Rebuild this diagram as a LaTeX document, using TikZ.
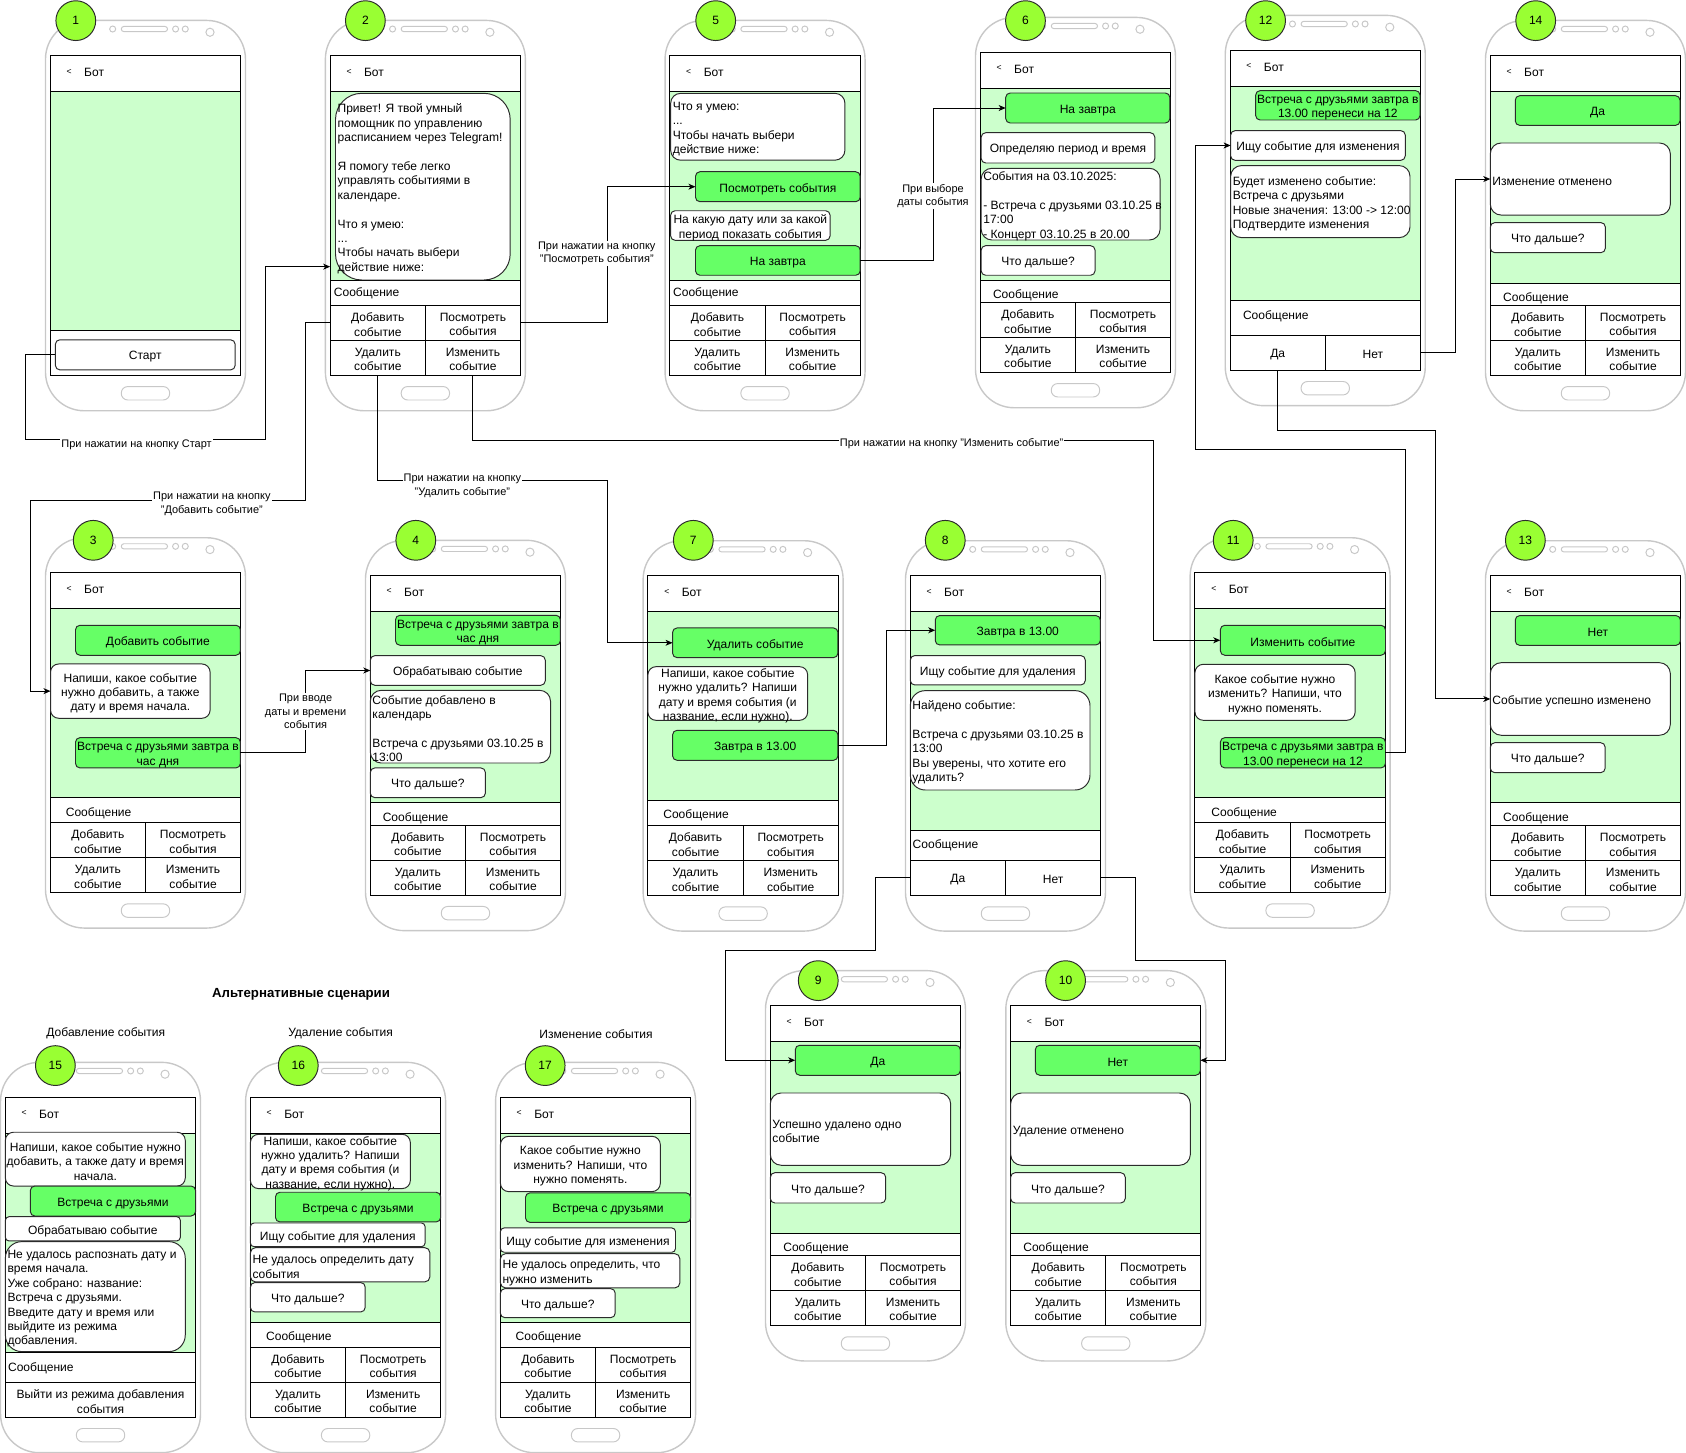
\documentclass[tikz,border=0pt]{standalone}
\usepackage{fontspec}
\setmainfont{Liberation Sans}
\usetikzlibrary{arrows.meta,calc}

\definecolor{chatbg}{HTML}{CCFFCC}
\definecolor{usergreen}{HTML}{66FF66}
\definecolor{badgegreen}{HTML}{99FF33}
\definecolor{shell}{HTML}{C8C8C8}
\definecolor{edge}{HTML}{2B2B2B}

\newcommand{\phfont}{\fontsize{11.2}{13.4}\selectfont}
\newcommand{\lblfont}{\fontsize{10.2}{12.5}\selectfont}
\newcommand{\backfont}{\fontsize{8}{9}\selectfont}

\tikzset{
  every node/.style={inner sep=0pt, outer sep=0pt, font=\phfont},
  phonebody/.style={draw=shell, line width=1.3pt, fill=white, rounded corners=36pt},
  phonepart/.style={draw=shell, line width=0.9pt},
  screenframe/.style={draw=black, line width=0.9pt, anchor=north west, minimum width=177pt, minimum height=297.5pt},
  rule/.style={draw=black, line width=0.9pt},
  cell/.style={draw=black, line width=0.9pt, anchor=north west, minimum width=88.5pt, minimum height=32.5pt},
  celltext/.style={align=center, yshift=-1.5pt},
  usermsg/.style={draw=edge, line width=0.9pt, fill=usergreen},
  botmsg/.style={draw=edge, line width=0.9pt, fill=white},
  badge/.style={circle, draw=edge, line width=0.9pt, fill=badgegreen, minimum size=37pt},
  flow/.style={draw=black, line width=0.9pt, -{Stealth[length=6.5pt, width=5.5pt, inset=1.8pt]}},
  flowlabel/.style={fill=white, inner sep=1pt, align=center, font=\lblfont, yshift=-1.5pt},
}

% phone shell, screen, header and number badge
% #1 id, #2 screen x, #3 screen y, #4 number, #5 badge x, #6 badge y, #7 chat bottom (relative)
\newcommand{\phoneframe}[7]{%
  \begin{scope}[shift={(#2,#3)}]
    \draw[phonebody] (-4.5,-32.5) rectangle (181.5,330.5);
    \draw[phonepart] (58,-24.5) circle (2.8);
    \draw[phonepart, rounded corners=2.4pt] (66,-26.9) rectangle (109,-22.1);
    \draw[phonepart] (116.5,-24.5) circle (2.8);
    \draw[phonepart] (125.5,-24.5) circle (2.8);
    \draw[phonepart] (148.5,-21.5) circle (3.8);
    \draw[phonepart, rounded corners=6pt] (66,308) rectangle (111,320.5);
    \fill[chatbg] (0,33.5) rectangle (177,#7);
    \node[screenframe] (p#1) at (0,0) {};
    \draw[rule] (0,33.5) -- (177,33.5);
    \draw[rule] (0,#7) -- (177,#7);
    \node[font=\backfont] (p#1-back) at (17.5,15) {<};
    \node[anchor=west] (p#1-title) at (31.5,15.5) {Бот};
  \end{scope}
  \node[badge] (n#1) at (#5,#6) {#4};
}

% message line and the four menu buttons
\newcommand{\menugrid}[5]{%
  \begin{scope}[shift={(#2,#3)}]
    \node[anchor=west] (p#1-msg) at (#4,#5) {Сообщение};
    \node[cell] (p#1-add) at (0,232.5) {};
    \node[cell] (p#1-view) at (88.5,232.5) {};
    \node[cell] (p#1-del) at (0,265) {};
    \node[cell] (p#1-edit) at (88.5,265) {};
  \end{scope}
  \node[celltext] (p#1-add-t) at (p#1-add.center) {Добавить\\событие};
  \node[celltext] (p#1-view-t) at (p#1-view.center) {Посмотреть\\события};
  \node[celltext] (p#1-del-t) at (p#1-del.center) {Удалить\\событие};
  \node[celltext] (p#1-edit-t) at (p#1-edit.center) {Изменить\\событие};
}

% message line and yes/no buttons
\newcommand{\yesnorow}[6]{%
  \pgfmathsetmacro\ynH{297.5-#4}%
  \begin{scope}[shift={(#2,#3)}]
    \node[anchor=west] (p#1-msg) at (#5,#6) {Сообщение};
    \node[cell, minimum height=\ynH pt] (p#1-yes) at (0,#4) {};
    \node[cell, minimum height=\ynH pt] (p#1-no) at (88.5,#4) {};
  \end{scope}
  \node[celltext] (p#1-yes-t) at (p#1-yes.center) {Да};
  \node[celltext] (p#1-no-t) at (p#1-no.center) {Нет};
}

% chat bubble: #1 name, #2 style, #3 x1, #4 y1, #5 x2, #6 y2, #7 l/c, #8 text
\newcommand{\bubble}[8]{%
  \pgfmathsetmacro\mbW{#5-#3}%
  \pgfmathsetmacro\mbH{#6-#4}%
  \pgfmathsetmacro\mbR{0.15*min(\mbW,\mbH)}%
  \node[#2, rounded corners=\mbR pt, minimum width=\mbW pt, minimum height=\mbH pt, anchor=north west] (#1) at (#3,#4) {};%
  \if l#7%
    \node[align=left, anchor=west, yshift=-2pt] (#1-t) at ([xshift=2pt]#1.west) {#8};%
  \else
    \node[align=center, yshift=-2pt] (#1-t) at (#1.center) {#8};%
  \fi
}

\begin{document}
\begin{tikzpicture}[x=1pt, y=-1pt]
\fill[white] (0,0) rectangle (1568,1351);
\useasboundingbox (0,0) rectangle (1568,1351);

% ---------- main scenario, first row ----------
\phoneframe{1}{46.8}{51.5}{1}{70.5}{19.2}{255.5}
\bubble{s1}{botmsg}{51.5}{316}{218.7}{344}{c}{Старт}

\phoneframe{2}{307.1}{51.5}{2}{339.8}{19.2}{209.2}
\menugrid{2}{307.1}{51.5}{3.4}{220.8}
\bubble{b2}{botmsg}{312}{86.8}{474.5}{260.4}{l}{Привет! Я твой умный\\помощник по управлению\\расписанием через Telegram!\\[13.4pt]Я помогу тебе легко\\управлять событиями в\\календаре.\\[13.4pt]Что я умею:\\...\\Чтобы начать выбери\\действие ниже:}

\phoneframe{5}{623}{51.5}{5}{665.6}{19.2}{209}
\menugrid{5}{623}{51.5}{3}{220.8}
\bubble{b5a}{botmsg}{623.7}{86.8}{785.8}{149}{l}{Что я умею:\\...\\Чтобы начать выбери\\действие ниже:}
\bubble{b5v}{usermsg}{646.8}{159.7}{800}{187.6}{c}{Посмотреть события}
\bubble{b5q}{botmsg}{623.7}{196}{772}{223.5}{c}{На какую дату или за какой\\период показать события}
\bubble{b5t}{usermsg}{646.8}{228.5}{800}{256}{c}{На завтра}

\phoneframe{6}{911.7}{48.7}{6}{953.7}{19.2}{212.6}
\menugrid{6}{911.7}{48.7}{11.8}{226}
\bubble{b6a}{usermsg}{935.3}{86.5}{1088}{114.4}{c}{На завтра}
\bubble{b6b}{botmsg}{912.5}{123.4}{1074}{151.6}{c}{Определяю период и время}
\bubble{b6c}{botmsg}{912.5}{156.5}{1078.9}{223.2}{l}{События на 03.10.2025:\\[13.4pt]- Встреча с друзьями 03.10.25 в\\17:00\\- Концерт 03.10.25 в 20.00}
\bubble{b6d}{botmsg}{912.5}{228.5}{1018.4}{256}{c}{Что дальше?}

\phoneframe{12}{1144}{46.8}{12}{1177}{19.2}{232.8}
\yesnorow{12}{1144}{46.8}{265.1}{12}{247.5}
\bubble{b12a}{usermsg}{1167.8}{84.3}{1320.6}{111.6}{c}{Встреча с друзьями завтра в\\13.00 перенеси на 12}
\bubble{b12b}{botmsg}{1144.5}{121.5}{1306.9}{149.1}{c}{Ищу событие для изменения}
\bubble{b12c}{botmsg}{1144.5}{154}{1311.3}{221}{l}{Будет изменено событие:\\Встреча с друзьями\\Новые значения: 13:00 -> 12:00\\Подтвердите изменения}

\phoneframe{14}{1386}{51.5}{14}{1428.2}{19.2}{211.7}
\menugrid{14}{1386}{51.5}{12}{226}
\bubble{b14a}{usermsg}{1409.2}{89}{1562.4}{116.6}{c}{Да}
\bubble{b14b}{botmsg}{1386}{133}{1553.4}{200}{l}{Изменение отменено}
\bubble{b14c}{botmsg}{1386}{207}{1493}{235}{c}{Что дальше?}

% ---------- main scenario, second row ----------
\phoneframe{3}{46.8}{532.6}{3}{86.7}{502.5}{209.2}
\menugrid{3}{46.8}{532.6}{14.4}{223.8}
\bubble{b3u}{usermsg}{70.2}{581.5}{223.6}{609.4}{c}{Добавить событие}
\bubble{b3a}{botmsg}{47}{617.5}{195.4}{668}{c}{Напиши, какое событие\\нужно добавить, а также\\дату и время начала.}
\bubble{b3b}{usermsg}{70.2}{686}{223.6}{714.2}{c}{Встреча с друзьями завтра в\\час дня}

\phoneframe{4}{344.4}{535}{4}{386.7}{502.5}{211.5}
\menugrid{4}{344.4}{535}{11.6}{226.3}
\bubble{b4a}{usermsg}{367.8}{572.2}{521.2}{600.1}{c}{Встреча с друзьями завтра в\\час дня}
\bubble{b4b}{botmsg}{344.4}{609.8}{507.1}{637.3}{c}{Обрабатываю событие}
\bubble{b4c}{botmsg}{344.4}{642}{512}{709.6}{l}{Событие добавлено в\\календарь\\[13.4pt]Встреча с друзьями 03.10.25 в\\13:00}
\bubble{b4d}{botmsg}{344.4}{714.2}{451.4}{741.8}{c}{Что дальше?}

\phoneframe{7}{602.6}{535.4}{7}{644.8}{502.5}{209.2}
\menugrid{7}{602.6}{535.4}{14.3}{223.2}
\bubble{b7a}{usermsg}{625.5}{584}{779.3}{611.6}{c}{Удалить событие}
\bubble{b7q}{botmsg}{602.6}{620}{751.1}{669.9}{c}{Напиши, какое событие\\нужно удалить? Напиши\\дату и время события (и\\название, если нужно).}
\bubble{b7b}{usermsg}{625.5}{679.2}{779.3}{707.1}{c}{Завтра в 13.00}

\phoneframe{8}{846.6}{535.4}{8}{879.1}{502.5}{236.5}
\yesnorow{8}{846.6}{535.4}{264.4}{2.2}{251}
\bubble{b8a}{usermsg}{869.8}{572.5}{1023.3}{599.8}{c}{Завтра в 13.00}
\bubble{b8b}{botmsg}{846.6}{609.7}{1009.3}{637}{c}{Ищу событие для удаления}
\bubble{b8c}{botmsg}{846.6}{642.3}{1013.7}{734.7}{l}{Найдено событие:\\[13.4pt]Встреча с друзьями 03.10.25 в\\13:00\\Вы уверены, что хотите его\\удалить?}

\phoneframe{11}{1111.3}{532.6}{11}{1146.9}{502.5}{209.2}
\menugrid{11}{1111.3}{532.6}{15.3}{223.8}
\bubble{b11a}{usermsg}{1134.9}{581.5}{1288.5}{609.4}{c}{Изменить событие}
\bubble{b11q}{botmsg}{1111.3}{617.8}{1260.3}{669.9}{c}{Какое событие нужно\\изменить? Напиши, что\\нужно поменять.}
\bubble{b11b}{usermsg}{1134.9}{686}{1288.5}{714.2}{c}{Встреча с друзьями завтра в\\13.00 перенеси на 12}

\phoneframe{13}{1386}{535.4}{13}{1418.6}{502.5}{211.1}
\menugrid{13}{1386}{535.4}{12}{225.9}
\bubble{b13a}{usermsg}{1409.2}{572.5}{1562.8}{600.2}{c}{Нет}
\bubble{b13b}{botmsg}{1386}{616.3}{1553.4}{683.8}{l}{Событие успешно изменено}
\bubble{b13c}{botmsg}{1386}{690.7}{1492.8}{718.6}{c}{Что дальше?}

% ---------- deletion outcomes ----------
\phoneframe{9}{716.4}{935.2}{9}{761}{912}{211.8}
\menugrid{9}{716.4}{935.2}{12.1}{226}
\bubble{b9a}{usermsg}{739.6}{972.1}{893.1}{1000}{c}{Да}
\bubble{b9b}{botmsg}{716.4}{1016.5}{884.1}{1083.7}{l}{Успешно удалено одно\\событие}
\bubble{b9c}{botmsg}{716.4}{1090.6}{823.7}{1118.8}{c}{Что дальше?}

\phoneframe{10}{939.9}{935.2}{10}{991}{912}{211.8}
\menugrid{10}{939.9}{935.2}{11.8}{226}
\bubble{b10a}{usermsg}{962.8}{972.1}{1116.3}{1000}{c}{Нет}
\bubble{b10b}{botmsg}{939.9}{1016.5}{1107}{1083.7}{l}{Удаление отменено}
\bubble{b10c}{botmsg}{939.9}{1090.6}{1046.5}{1118.8}{c}{Что дальше?}

% ---------- alternative scenarios ----------
\node[font=\fontsize{12.3}{14}\selectfont\bfseries] (alttitle) at (280,924.5) {Альтернативные сценарии};
\node (alt15) at (98.4,961) {Добавление события};
\node (alt16) at (316.8,961) {Удаление события};
\node (alt17) at (554.3,962) {Изменение события};

\phoneframe{15}{5}{1020.5}{15}{51.5}{991}{237.5}
\begin{scope}[shift={(5,1020.5)}]
  \node[anchor=west] (p15-msg) at (2.5,252) {Сообщение};
  \node[cell, minimum width=177pt, minimum height=32.1pt] (p15-exit) at (0,265.4) {};
\end{scope}
\node[celltext] (p15-exit-t) at (p15-exit.center) {Выйти из режима добавления\\события};
\bubble{b15a}{botmsg}{5}{1053}{172.3}{1103}{c}{Напиши, какое событие нужно\\добавить, а также дату и время\\начала.}
\bubble{b15b}{usermsg}{28.2}{1103}{181.9}{1130.9}{c}{Встреча с друзьями}
\bubble{b15c}{botmsg}{5}{1131.5}{167.7}{1154.1}{c}{Обрабатываю событие}
\bubble{b15d}{botmsg}{5}{1154.7}{172.3}{1257}{l}{Не удалось распознать дату и\\время начала.\\Уже собрано: название:\\Встреча с друзьями.\\Введите дату и время или\\выйдите из режима\\добавления.}

\phoneframe{16}{232.9}{1020.5}{16}{277.4}{991}{209.2}
\menugrid{16}{232.9}{1020.5}{14.6}{223.5}
\bubble{b16a}{botmsg}{232.9}{1054.9}{381.6}{1105.4}{c}{Напиши, какое событие\\нужно удалить? Напиши\\дату и время события (и\\название, если нужно).}
\bubble{b16b}{usermsg}{256.2}{1108.8}{409.8}{1136.4}{c}{Встреча с друзьями}
\bubble{b16c}{botmsg}{232.9}{1137.4}{395.3}{1159.4}{c}{Ищу событие для удаления}
\bubble{b16d}{botmsg}{232.9}{1160.3}{399.8}{1192.2}{l}{Не удалось определить дату\\события}
\bubble{b16e}{botmsg}{232.9}{1192.8}{339.6}{1220.1}{c}{Что дальше?}

\phoneframe{17}{465.4}{1020.5}{17}{507}{991}{209.2}
\menugrid{17}{465.4}{1020.5}{14.2}{223.5}
\bubble{b17a}{botmsg}{465.4}{1056.8}{614.1}{1108.2}{c}{Какое событие нужно\\изменить? Напиши, что\\нужно поменять.}
\bubble{b17b}{usermsg}{488.7}{1109.4}{642.3}{1136.8}{c}{Встреча с друзьями}
\bubble{b17c}{botmsg}{465.4}{1142}{628.2}{1164.6}{c}{Ищу событие для изменения}
\bubble{b17d}{botmsg}{465.4}{1165.9}{632.3}{1197.8}{l}{Не удалось определить, что\\нужно изменить}
\bubble{b17e}{botmsg}{465.4}{1198.5}{572.1}{1225.4}{c}{Что дальше?}

% ---------- transitions ----------
\draw[flow] (s1.west) -- ++(-27.5,0) |- (246.6,409) |- (p2.west |- 0,248);
\draw[flow] (p2-view.east) -- ++(80.9,0) |- (b5v.west);
\draw[flow] (p2-add.west) -- ++(-22.7,0) |- (28.2,465) |- (b3a.west);
\draw[flow] (p2-del.south) |- (565,446.4) |- (b7a.west);
\draw[flow] (p2-edit.south) |- (1073,409.8) |- (b11a.west);
\draw[flow] (b5t.east) -- ++(67.7,0) |- (b6a.west);
\draw[flow] (b3b.east) -- ++(60.6,0) |- (b4b.west);
\draw[flow] (b7b.east) -- ++(45.3,0) |- (b8a.west);
\draw[flow] (p8-yes.west) -- ++(-32.6,0) |- (675,883.5) |- (b9a.west);
\draw[flow] (p8-no.east) -- ++(32.2,0) |- (1139.8,892.8) |- (b10a.east);
\draw[flow] (b11b.east) -- ++(18.4,0) |- (1112,417.6) |- (b12b.west);
\draw[flow] (p12-no.east) -- ++(32.4,0) |- (b14b.west);
\draw[flow] (p12-yes.south) |- (1334.8,400) |- (b13b.west);

\node[flowlabel] (l1) at (127,412.5) {При нажатии на кнопку Старт};
\node[flowlabel] (l2) at (555,234) {При нажатии на кнопку\\"Посмотреть события"};
\node[flowlabel] (l3) at (197,467) {При нажатии на кнопку\\"Добавить событие"};
\node[flowlabel] (l4) at (430,450.5) {При нажатии на кнопку\\"Удалить событие"};
\node[flowlabel] (l5) at (885,411) {При нажатии на кнопку "Изменить событие"};
\node[flowlabel] (l6) at (867.7,180.7) {При выборе\\даты события};
\node[flowlabel] (l7) at (284.2,660.4) {При вводе\\даты и времени\\события};
\end{tikzpicture}
\end{document}
